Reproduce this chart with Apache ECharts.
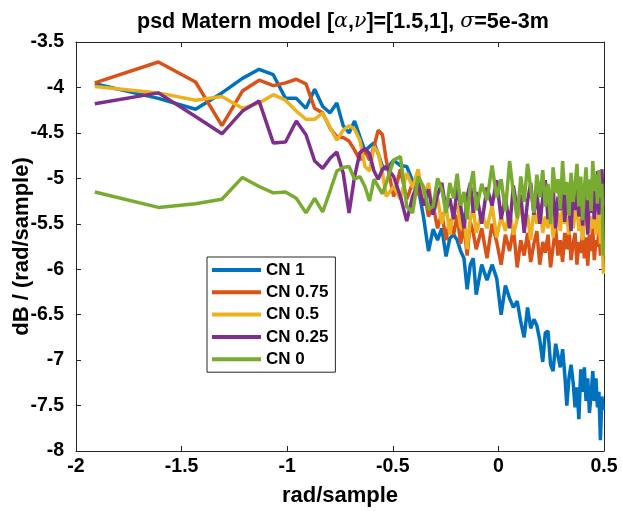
<!DOCTYPE html>
<html>
<head>
<meta charset="utf-8">
<script src="https://cdn.jsdelivr.net/npm/echarts@6/dist/echarts.min.js"></script>
<style>html,body{margin:0;padding:0;background:#fff}#c{width:622px;height:511px}</style>
</head>
<body>
<div id="c"></div>
<script>
// frequency axis (rad/sample, log10 scale values)
const xVals = [-1.911,-1.610,-1.434,-1.309,-1.212,-1.133,-1.066,-1.008,-0.957,-0.911,-0.870,-0.832,-0.797,-0.765,-0.735,-0.707,-0.681,-0.656,-0.632,-0.610,-0.589,-0.569,-0.549,-0.531,
-0.496,-0.464,-0.434,-0.406,-0.380,-0.355,-0.331,-0.309,-0.288,-0.268,-0.248,-0.230,-0.212,-0.195,-0.179,-0.163,-0.148,-0.133,-0.119,-0.105,
-0.079,-0.054,-0.030,-0.008,0.013,0.033,0.053,0.071,0.089,0.106,0.122,0.138,0.153,0.168,0.182,0.196,0.210,0.222,0.235,0.247,0.259,0.271,0.282,0.293,0.304,0.314,0.324,0.334,0.344,0.354,0.363,0.372,0.381,0.390,0.399,0.407,0.415,0.423,0.431,0.439,0.447,0.454,0.462,0.469,0.476,0.483,0.490,0.497];

const cn1 = [-3.96,-4.12,-4.24,-4.06,-3.90,-3.80,-3.86,-4.12,-4.12,-4.23,-4.02,-4.21,-4.28,-4.17,-4.42,-4.50,-4.37,-4.54,-4.70,-4.65,-4.61,-4.73,-4.87,-4.90,
-4.80,-4.86,-4.87,-5.03,-5.10,-5.42,-5.80,-5.56,-5.68,-5.55,-5.86,-5.66,-5.62,-5.68,-5.80,-5.88,-6.22,-5.95,-5.88,-6.28,
-5.95,-6.12,-5.95,-6.10,-6.50,-6.18,-6.32,-6.42,-6.35,-6.58,-6.75,-6.42,-6.65,-6.55,-6.62,-6.78,-7.02,-6.70,-6.68,-7.05,-7.12,-6.82,-6.95,-7.08,-6.88,-7.15,-7.50,-7.20,-7.05,-7.25,-7.52,-7.30,-7.65,-7.10,-7.35,-7.08,-7.45,-7.20,-7.58,-7.38,-7.12,-7.45,-7.20,-7.52,-7.35,-7.88,-7.40,-7.55];

const cn075 = [-3.95,-3.72,-3.94,-4.42,-4.04,-3.92,-3.98,-3.95,-3.91,-3.96,-4.23,-4.28,-4.45,-4.54,-4.55,-4.59,-4.69,-4.80,-4.69,-4.80,-4.65,-4.47,-4.52,-4.80,
-5.20,-4.90,-5.23,-5.05,-5.18,-5.10,-5.42,-5.30,-5.55,-5.38,-5.68,-5.45,-5.62,-5.40,-5.72,-5.52,-5.85,-5.48,-5.60,-5.78,
-5.55,-5.88,-5.50,-5.70,-5.95,-5.62,-5.80,-5.55,-5.98,-5.68,-5.85,-5.60,-5.92,-5.72,-5.58,-5.95,-5.70,-5.82,-5.62,-5.98,-5.75,-5.55,-5.85,-5.68,-5.92,-5.60,-5.78,-5.55,-5.90,-5.72,-5.60,-5.95,-5.70,-5.82,-5.58,-5.88,-5.65,-5.96,-5.62,-5.80,-5.55,-5.90,-5.68,-5.75,-5.58,-5.85,-5.65,-5.72];

const cn05 = [-3.99,-4.06,-4.14,-4.10,-4.23,-4.17,-4.08,-4.14,-4.26,-4.35,-4.35,-4.28,-4.44,-4.58,-4.47,-4.42,-4.46,-4.58,-4.87,-4.92,-4.65,-4.72,-4.94,-5.20,
-5.09,-5.23,-4.94,-5.10,-4.90,-5.25,-5.05,-5.40,-5.22,-5.50,-5.30,-5.62,-5.35,-5.28,-5.55,-5.40,-5.78,-5.45,-5.32,-5.60,
-5.38,-5.55,-5.30,-5.65,-5.42,-5.58,-5.35,-5.62,-5.45,-5.30,-5.55,-5.40,-5.68,-5.35,-5.50,-5.28,-5.60,-5.42,-5.55,-5.32,-5.65,-5.45,-5.38,-5.58,-5.30,-5.50,-5.42,-5.62,-5.35,-5.55,-5.40,-5.28,-5.58,-5.45,-5.68,-5.38,-5.52,-5.30,-5.60,-5.42,-5.55,-5.35,-5.62,-5.48,-5.40,-5.72,-5.55,-6.05];

const cn025 = [-4.18,-4.06,-4.32,-4.51,-4.26,-4.15,-4.61,-4.60,-4.37,-4.52,-4.81,-4.89,-4.78,-4.71,-4.94,-5.38,-4.98,-4.72,-4.67,-4.73,-4.92,-5.01,-4.90,-4.87,
-4.98,-5.20,-5.47,-5.20,-5.05,-5.30,-5.12,-5.40,-5.18,-5.05,-5.35,-5.22,-5.45,-5.10,-5.30,-5.55,-5.20,-5.05,-5.38,-5.15,
-5.50,-5.10,-5.30,-5.02,-5.45,-5.20,-5.55,-5.08,-5.35,-5.18,-5.60,-5.25,-5.05,-5.40,-5.15,-5.50,-5.22,-5.02,-5.45,-5.28,-5.10,-5.55,-5.20,-5.35,-5.05,-5.48,-5.18,-5.30,-5.58,-5.12,-5.35,-5.05,-5.42,-5.20,-5.52,-5.10,-5.30,-5.62,-5.15,-5.38,-5.05,-5.45,-5.25,-4.92,-5.40,-5.15,-4.90,-5.30];

const cn0 = [-5.15,-5.32,-5.28,-5.23,-4.99,-5.09,-5.16,-5.15,-5.22,-5.38,-5.22,-5.37,-5.14,-4.92,-4.88,-4.87,-5.01,-4.98,-5.09,-5.25,-5.01,-5.09,-5.17,-5.05,
-4.80,-4.76,-5.31,-5.38,-4.98,-5.09,-5.34,-5.31,-5.00,-5.12,-5.38,-5.05,-5.22,-4.95,-5.30,-5.15,-5.45,-5.08,-4.92,-5.35,
-5.06,-5.24,-4.86,-5.21,-5.01,-5.36,-4.81,-5.16,-5.44,-4.98,-5.26,-4.84,-5.11,-5.38,-4.96,-5.21,-4.91,-5.31,-5.06,-5.50,-4.88,-5.16,-5.01,-5.34,-4.81,-5.18,-5.04,-5.41,-4.94,-5.26,-5.08,-4.84,-5.31,-4.98,-5.46,-5.11,-4.88,-5.24,-5.01,-5.36,-4.81,-5.14,-4.96,-5.28,-4.91,-5.21,-5.06,-5.85];

const seriesNames = ['CN 1','CN 0.75','CN 0.5','CN 0.25','CN 0'];
const seriesVals = [cn1, cn075, cn05, cn025, cn0];
const colors = ['#0072BD','#D95319','#EDB120','#7E2F8E','#77AC30'];

const FONT = 'Liberation Sans, Arial, sans-serif';
const axisCol = '#262626';

const chart = echarts.init(document.getElementById('c'), null, {renderer:'canvas'});

const baseAxis = {
  axisLine:{show:true, onZero:false, lineStyle:{color:axisCol, width:1}},
  axisTick:{show:true, inside:true, length:5, lineStyle:{color:axisCol}},
  splitLine:{show:false}
};

chart.setOption({
  animation:false,
  color: colors,
  title:{
    text:'{a|psd Matern model [}{g|α}{a|,}{g|ν}{a|]=[1.5,1], }{g|σ}{a|=5e-3m}',
    left:132, top:6,
    textStyle:{
      rich:{
        a:{fontFamily:FONT, fontWeight:'bold', fontSize:21.5, color:'#000'},
        g:{fontFamily:'DejaVu Serif, serif', fontStyle:'italic', fontWeight:'normal', fontSize:20.5, color:'#000'}
      }
    }
  },
  grid:{left:76, right:18, top:42, bottom:60, containLabel:false, outerBoundsMode:'none'},
  legend:{
    left:207, top:257,
    orient:'vertical',
    icon:'rect', itemWidth:49, itemHeight:4, itemGap:5.3,
    padding:[4.5,7,4.5,5],
    borderColor:axisCol, borderWidth:1, backgroundColor:'#fff',
    textStyle:{fontFamily:FONT, fontWeight:'bold', fontSize:17, color:'#000', lineHeight:17},
    data: seriesNames
  },
  xAxis:[
    Object.assign({}, baseAxis, {
      type:'value', min:-2, max:0.5, interval:0.5, position:'bottom',
      name:'rad/sample', nameLocation:'middle', nameGap:34, nameMoveOverlap:false,
      nameTextStyle:{fontFamily:FONT, fontWeight:'bold', fontSize:22, color:'#000'},
      axisLabel:{fontFamily:FONT, fontWeight:'bold', fontSize:19.5, color:'#000', margin:6}
    }),
    Object.assign({}, baseAxis, {
      type:'value', min:-2, max:0.5, interval:0.5, position:'top',
      axisLabel:{show:false}
    })
  ],
  yAxis:[
    Object.assign({}, baseAxis, {
      type:'value', min:-8, max:-3.5, interval:0.5, position:'left',
      name:'dB / (rad/sample)', nameLocation:'middle', nameGap:43, nameMoveOverlap:false,
      nameTextStyle:{fontFamily:FONT, fontWeight:'bold', fontSize:22, color:'#000'},
      axisLabel:{fontFamily:FONT, fontWeight:'bold', fontSize:19.5, color:'#000', margin:12}
    }),
    Object.assign({}, baseAxis, {
      type:'value', min:-8, max:-3.5, interval:0.5, position:'right',
      axisLabel:{show:false}
    })
  ],
  series: seriesNames.map((n,i)=>({
    name:n, type:'line', xAxisIndex:0, yAxisIndex:0,
    showSymbol:false, symbol:'none',
    lineStyle:{width:3.5, color:colors[i]},
    itemStyle:{color:colors[i]},
    emphasis:{disabled:true},
    data: xVals.map((x,j)=>[x, seriesVals[i][j]])
  }))
});
</script>
</body>
</html>
